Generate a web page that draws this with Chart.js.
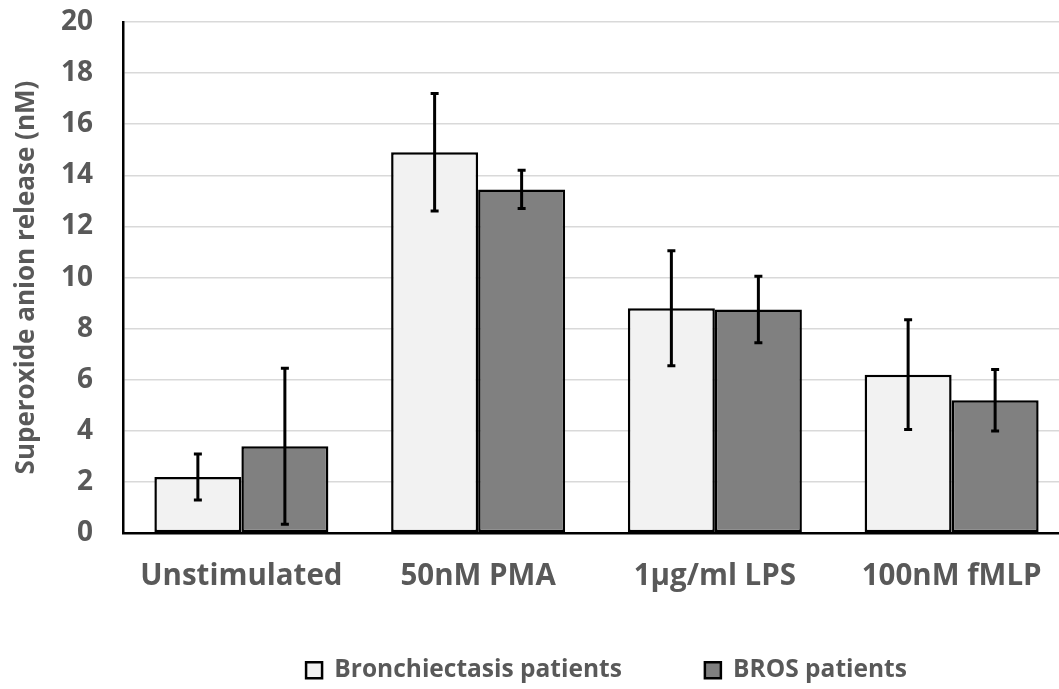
<!DOCTYPE html>
<html>
<head>
<meta charset="utf-8">
<script src="https://cdn.jsdelivr.net/npm/chart.js@4.4.0/dist/chart.umd.min.js"></script>
<style>
  html, body { margin: 0; padding: 0; background: #fff; }
  #wrap { width: 1059px; height: 689px; }
</style>
</head>
<body>
<div id="wrap"><canvas id="grafico"></canvas></div>
<script>
// dados
const categorias = ['Unstimulated', '50nM PMA', '1µg/ml LPS', '100nM fMLP'];
const bronquiectasia = [2.2, 14.9, 8.8, 6.2];
const bronquiectasiaErro = [0.9, 2.3, 2.25, 2.15];
const bros = [3.4, 13.45, 8.75, 5.2];
const brosErro = [3.05, 0.75, 1.3, 1.2];
const ticksY = [0, 2, 4, 6, 8, 10, 12, 14, 16, 18, 20];

const fonte = '"Open Sans", "DejaVu Sans", sans-serif';
const cinzaTexto = '#595959';

// barras de erro desenhadas a partir das escalas
const barrasErro = {
    id: 'barrasErro',
    afterDatasetsDraw(chart) {
        const ctx = chart.ctx;
        const y = chart.scales.y;
        chart.data.datasets.forEach((ds, i) => {
            const meta = chart.getDatasetMeta(i);
            meta.data.forEach((bar, j) => {
                const v = ds.data[j];
                const e = ds.erros[j];
                const yAlto = y.getPixelForValue(v + e);
                const yBaixo = y.getPixelForValue(v - e);
                ctx.save();
                ctx.strokeStyle = '#000';
                ctx.lineWidth = 3;
                ctx.beginPath();
                ctx.moveTo(bar.x, yAlto);
                ctx.lineTo(bar.x, yBaixo);
                ctx.moveTo(bar.x - 4, yAlto);
                ctx.lineTo(bar.x + 4, yAlto);
                ctx.moveTo(bar.x - 4, yBaixo);
                ctx.lineTo(bar.x + 4, yBaixo);
                ctx.stroke();
                ctx.restore();
            });
        });
    }
};

// ajustes finos: legenda deslocada e área do gráfico passando um pouco da borda direita
const ajustes = {
    id: 'ajustes',
    afterLayout(chart) {
        const lg = chart.legend;
        lg.left += 77;
        lg.right += 77;
        lg.top -= 45.6;
        lg.bottom -= 45.6;
        const x = chart.scales.x;
        x.right += 11;
        x.width += 11;
        x.configure();
        chart.chartArea.right += 11;
        chart.chartArea.width += 11;
    }
};

const ctxGrafico = document.getElementById('grafico').getContext('2d');
const grafico = new Chart(ctxGrafico, {
    type: 'bar',
    data: {
        labels: categorias,
        datasets: [{
            label: 'Bronchiectasis patients',
            data: bronquiectasia,
            erros: bronquiectasiaErro,
            backgroundColor: '#f2f2f2',
            borderColor: '#000',
            borderWidth: 2.5,
            borderSkipped: false
        }, {
            label: 'BROS patients',
            data: bros,
            erros: brosErro,
            backgroundColor: '#808080',
            borderColor: '#000',
            borderWidth: 2.5,
            borderSkipped: false
        }]
    },
    options: {
        responsive: true,
        maintainAspectRatio: false,
        animation: false,
        layout: {
            padding: { top: 22, right: 0, left: 0, bottom: -49 }
        },
        datasets: {
            bar: { barPercentage: 1, categoryPercentage: 0.735 }
        },
        scales: {
            y: {
                min: 0,
                max: 20,
                afterBuildTicks: (axis) => { axis.ticks = ticksY.map(v => ({ value: v })); },
                afterFit: (axis) => {
                    axis.width = 123;
                    axis.paddingTop = 0;
                    axis.paddingBottom = 0;
                },
                ticks: {
                    color: cinzaTexto,
                    font: { family: fonte, size: 28, weight: 'bold' },
                    padding: 30
                },
                grid: { color: '#d9d9d9', lineWidth: 1.5, drawTicks: false },
                border: { color: '#000', width: 2.5 },
                title: {
                    display: true,
                    text: 'Superoxide anion release (nM)',
                    color: cinzaTexto,
                    font: { family: fonte, size: 26, weight: 'bold' },
                    padding: { top: 11, bottom: 0 }
                }
            },
            x: {
                ticks: {
                    color: cinzaTexto,
                    font: { family: fonte, size: 29.5, weight: 'bold' },
                    padding: 26
                },
                grid: { display: false, drawTicks: false },
                border: { color: '#000', width: 2.5 }
            }
        },
        plugins: {
            legend: {
                position: 'bottom',
                labels: {
                    color: cinzaTexto,
                    font: { family: fonte, size: 24.5, weight: 'bold' },
                    boxWidth: 16,
                    boxHeight: 16,
                    padding: 83
                }
            },
            tooltip: { enabled: false }
        }
    },
    plugins: [barrasErro, ajustes]
});
</script>
</body>
</html>
